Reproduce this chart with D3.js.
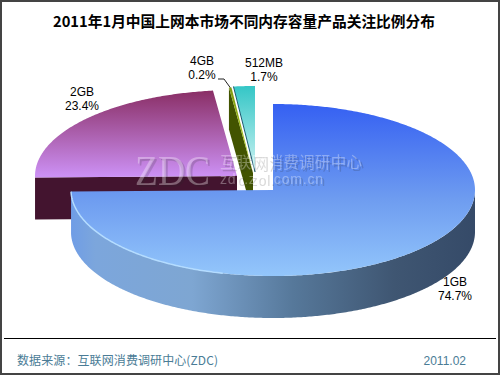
<!DOCTYPE html>
<html>
<head>
<meta charset="utf-8">
<script src="https://cdn.jsdelivr.net/npm/d3@7"></script>
<style>
  html, body { margin: 0; padding: 0; background: #fff; }
  svg { display: block; }
</style>
</head>
<body>
<div id="chart"></div>
<script>
const titleText = "2011年1月中国上网本市场不同内存容量产品关注比例分布";
const categories = ["1GB", "2GB", "4GB", "512MB"];
const shares = [74.7, 23.4, 0.2, 1.7];
const sourceText = "数据来源：互联网消费调研中心(ZDC)";
const dateText = "2011.02";

main();

function main () {
  const width = 500,
    height = 375;

  // layout of the tilted pie
  const rx = 202,
    ry = 86,
    depth = 42;
  const centers = [
    { x: 273, y: 190 },
    { x: 237, y: 176 },
    { x: 253, y: 173 },
    { x: 255, y: 172 },
  ];
  const labelPos = [
    { x: 455, y: 286 },
    { x: 82, y: 96 },
    { x: 202, y: 65 },
    { x: 264, y: 67 },
  ];

  const svg = d3
    .select("#chart")
    .append("svg")
    .attr("width", width)
    .attr("height", height)
    .attr("viewBox", `0 0 ${width} ${height}`);

  const defs = svg.append("defs");
  addGradient(defs, "blueTop", true, [[0, "#3560f2"], [0.55, "#6e9cf0"], [1, "#93c6fb"]], [104, 276]);
  addGradient(defs, "purpleTop", true, [[0, "#8a2f66"], [1, "#cc90f4"]], [91, 176]);
  addGradient(defs, "greenTop", true, [[0, "#7f9a10"], [1, "#b8d820"]], [87, 173]);
  addGradient(defs, "cyanTop", true, [[0, "#34c6c6"], [1, "#cdf3f3"]], [86, 172]);
  addGradient(defs, "blueSide", false, [[0, "#6f9de6"], [0.06, "#7ca6dc"], [0.3, "#7ea6d2"], [0.55, "#56789a"], [0.8, "#3f5672"], [1, "#354a68"]], [71, 475]);

  const fills = ["url(#blueTop)", "url(#purpleTop)", "url(#greenTop)", "url(#cyanTop)"];

  const slices = d3.pie().sort(null).value((d) => d)(shares);
  const point = (a, c, dy = 0) => [
    c.x + rx * Math.sin(a),
    c.y - ry * Math.cos(a) + dy,
  ];
  const anglesBetween = (a0, a1) => d3.range(a0, a1, 0.01).concat([a1]);
  // top face in screen coordinates, so the gradients run in the picture's pixels
  const sector = (d, c) =>
    d3.line()([[c.x, c.y], ...anglesBetween(d.startAngle, d.endAngle).map((a) => point(a, c))]) + "Z";

  // frame
  svg.append("rect")
    .attr("x", 1).attr("y", 1)
    .attr("width", width - 2).attr("height", height - 2)
    .attr("fill", "#fff")
    .attr("stroke", "#444")
    .attr("stroke-width", 2);

  const pieGroup = svg.append("g");

  // 2GB cut face, seen from the front
  const purpleStart = slices[1].startAngle;
  pieGroup.append("path")
    .attr("d", d3.line()([
      [centers[1].x, centers[1].y],
      point(purpleStart, centers[1]),
      point(purpleStart, centers[1], depth),
      [centers[1].x, centers[1].y + depth],
    ]))
    .attr("fill", "#43142f");

  // 4GB cut face
  const greenEnd = slices[2].startAngle;
  pieGroup.append("path")
    .attr("d", d3.line()([
      [centers[2].x, centers[2].y],
      point(greenEnd, centers[2]),
      point(greenEnd, centers[2], depth),
      [centers[2].x, centers[2].y + depth],
    ]))
    .attr("fill", "#425400");

  // top faces of the small slices and 2GB
  [1, 3, 2].forEach((i) => {
    pieGroup.append("path")
      .attr("d", sector(slices[i], centers[i]))
      .attr("fill", fills[i]);
  });
  // dark seam between 4GB and 512MB
  pieGroup.append("path")
    .attr("d", d3.line()([[centers[3].x, centers[3].y], point(slices[3].startAngle, centers[3])]))
    .attr("stroke", "#1f5a70")
    .attr("stroke-width", 1)
    .attr("fill", "none");

  // 1GB rim, from the right edge round to the cut
  const rimAngles = anglesBetween(Math.PI / 2, slices[0].endAngle);
  const rimTop = rimAngles.map((a) => point(a, centers[0]));
  const rimBottom = rimAngles.map((a) => point(a, centers[0], depth)).reverse();
  pieGroup.append("path")
    .attr("d", d3.line()(rimTop.concat(rimBottom)) + "Z")
    .attr("fill", "url(#blueSide)");

  // 1GB top face
  pieGroup.append("path")
    .attr("d", sector(slices[0], centers[0]))
    .attr("fill", fills[0]);

  // pale highlight along the lower left rim
  pieGroup.append("path")
    .attr("d", d3.line()(anglesBetween(Math.PI * 1.08, slices[0].endAngle).map((a) => point(a, centers[0]))))
    .attr("fill", "none")
    .attr("stroke", "#b4dcff")
    .attr("stroke-width", 1.5);

  // watermark: pale text with a soft grey shadow
  const mark = svg.append("g")
    .attr("fill", "#fff")
    .attr("fill-opacity", 0.33)
    .style("filter", "drop-shadow(2px 2px 0 rgba(40,40,40,0.55))");
  mark.append("text")
    .attr("x", 135).attr("y", 185)
    .attr("font-family", "'Liberation Serif', serif")
    .attr("font-size", 43)
    .attr("textLength", 75)
    .attr("lengthAdjust", "spacingAndGlyphs")
    .text("ZDC");
  mark.append("text")
    .attr("x", 220).attr("y", 168)
    .attr("font-family", "'Noto Sans CJK SC', sans-serif")
    .attr("font-size", 15.5)
    .attr("textLength", 142)
    .text("互联网消费调研中心");
  mark.append("text")
    .attr("x", 220).attr("y", 184)
    .attr("font-family", "'Liberation Sans', sans-serif")
    .attr("font-size", 14)
    .attr("textLength", 103)
    .text("zdc.zol.com.cn");

  // title
  svg.append("text")
    .attr("x", 53).attr("y", 27)
    .attr("font-family", "'Noto Sans CJK SC', sans-serif")
    .attr("font-weight", "bold")
    .attr("font-size", 15)
    .attr("textLength", 382)
    .attr("lengthAdjust", "spacingAndGlyphs")
    .attr("fill", "#000")
    .text(titleText);

  // slice labels
  const labels = svg.append("g")
    .attr("font-family", "'Liberation Sans', Arial, sans-serif")
    .attr("font-size", 12)
    .attr("fill", "#000")
    .attr("text-anchor", "middle");
  categories.forEach((name, i) => {
    labels.append("text").attr("x", labelPos[i].x).attr("y", labelPos[i].y).text(name);
    labels.append("text").attr("x", labelPos[i].x).attr("y", labelPos[i].y + 14).text(shares[i] + "%");
  });

  // leader line for 4GB
  const tip = point((slices[2].startAngle + slices[2].endAngle) / 2, centers[2]);
  svg.append("path")
    .attr("d", d3.line()([[218, 79], [224, 79], tip]))
    .attr("fill", "none")
    .attr("stroke", "#222")
    .attr("stroke-width", 1);

  // footer
  svg.append("line")
    .attr("x1", 4).attr("x2", 496)
    .attr("y1", 338.5).attr("y2", 338.5)
    .attr("stroke", "#000")
    .attr("stroke-width", 1);
  svg.append("text")
    .attr("x", 17).attr("y", 365)
    .attr("font-family", "'Noto Sans CJK SC', sans-serif")
    .attr("font-size", 12)
    .attr("textLength", 201)
    .attr("fill", "#4a7c96")
    .text(sourceText);
  svg.append("text")
    .attr("x", 466).attr("y", 365)
    .attr("text-anchor", "end")
    .attr("font-family", "'Liberation Sans', Arial, sans-serif")
    .attr("font-size", 12)
    .attr("fill", "#4a7c96")
    .text(dateText);
}

function addGradient (defs, id, vertical, stops, range) {
  const g = defs.append("linearGradient")
    .attr("id", id)
    .attr("gradientUnits", "userSpaceOnUse")
    .attr("x1", vertical ? 0 : range[0])
    .attr("x2", vertical ? 0 : range[1])
    .attr("y1", vertical ? range[0] : 0)
    .attr("y2", vertical ? range[1] : 0);
  stops.forEach(([offset, color]) => {
    g.append("stop").attr("offset", offset).attr("stop-color", color);
  });
}
</script>
</body>
</html>
